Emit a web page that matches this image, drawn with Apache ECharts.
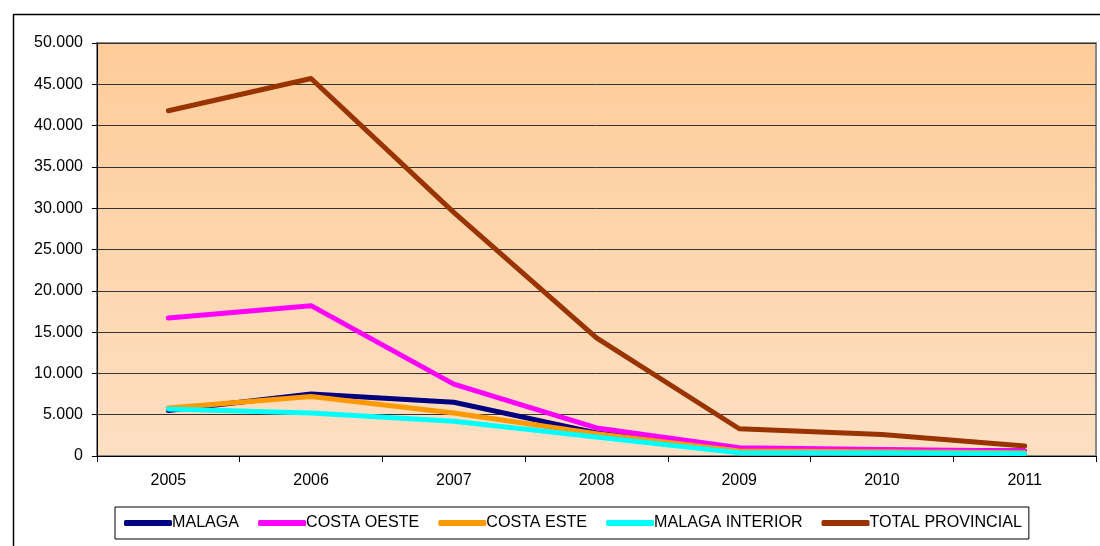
<!DOCTYPE html>
<html>
<head>
<meta charset="utf-8">
<script src="https://cdn.jsdelivr.net/npm/echarts@6/dist/echarts.min.js"></script>
<style>
html, body { margin: 0; padding: 0; background: #fff; }
#chart { width: 1100px; height: 546px; }
</style>
</head>
<body>
<div id="chart"></div>
<script>
// años
var years = ['2005', '2006', '2007', '2008', '2009', '2010', '2011'];

// valores
var malaga = [5500, 7500, 6500, 2800, 800, 700, 600];
var costaOeste = [16700, 18200, 8700, 3400, 1000, 800, 600];
var costaEste = [5800, 7200, 5200, 2700, 600, 500, 400];
var malagaInterior = [5700, 5200, 4200, 2300, 400, 350, 300];
var totalProvincial = [41800, 45700, 29500, 14300, 3300, 2600, 1200];

var seriesNames = ['MALAGA', 'COSTA OESTE', 'COSTA ESTE', 'MALAGA INTERIOR', 'TOTAL PROVINCIAL'];
var seriesColors = ['#000080', '#FF00FF', '#FF9900', '#00FFFF', '#993300'];
var seriesData = [malaga, costaOeste, costaEste, malagaInterior, totalProvincial];

// 50000 -> 50.000
function fmtMiles(v) {
	return String(v).replace(/\B(?=(\d{3})+(?!\d))/g, '.');
}

var myChart = echarts.init(document.getElementById('chart'));

var series = [];
for (var i = 0; i < seriesNames.length; i++) {
	series.push({
		name: seriesNames[i],
		type: 'line',
		data: seriesData[i],
		symbol: 'none',
		color: seriesColors[i],
		lineStyle: {
			width: 5,
			cap: 'round',
			join: 'round',
			color: seriesColors[i]
		},
		z: 3 + i
	});
}

myChart.setOption({
	animation: false,
	backgroundColor: '#fff',
	textStyle: {
		fontFamily: 'Liberation Sans, Arial, sans-serif'
	},
	graphic: [{
		type: 'rect',
		left: 11,
		top: 12,
		shape: { width: 1200, height: 700 },
		style: { fill: 'none', stroke: '#000', lineWidth: 1.5 },
		z: -10
	}],
	legend: {
		left: 115,
		top: 507,
		orient: 'horizontal',
		data: seriesNames,
		icon: 'roundRect',
		itemWidth: 48,
		itemHeight: 6,
		itemGap: 19,
		padding: [8, 7, 8, 9],
		borderColor: '#000',
		borderWidth: 1,
		backgroundColor: '#fff',
		textStyle: {
			fontSize: 16.1,
			color: '#000',
			padding: [0, 0, 0, -5],
			fontFamily: 'Liberation Sans, Arial, sans-serif'
		}
	},
	grid: {
		left: 97,
		top: 43,
		right: 4,
		bottom: 90,
		containLabel: false,
		show: true,
		borderColor: '#888',
		borderWidth: 2,
		backgroundColor: {
			type: 'linear',
			x: 0, y: 0, x2: 0, y2: 1,
			colorStops: [
				{ offset: 0, color: '#FECC99' },
				{ offset: 1, color: '#FDDFC2' }
			]
		}
	},
	xAxis: {
		type: 'category',
		data: years,
		boundaryGap: true,
		axisLine: { show: true, lineStyle: { color: '#000', width: 1 } },
		axisTick: { show: true, interval: 0, length: 6, lineStyle: { color: '#000' } },
		axisLabel: { margin: 17, fontSize: 16, color: '#000' },
		splitLine: { show: false }
	},
	yAxis: {
		type: 'value',
		min: 0,
		max: 50000,
		interval: 5000,
		axisLine: { show: true, lineStyle: { color: '#000', width: 1 } },
		axisTick: { show: true, length: 5, lineStyle: { color: '#000' } },
		axisLabel: {
			margin: 14,
			fontSize: 16,
			color: '#000',
			formatter: function (v) { return fmtMiles(v); }
		},
		splitLine: { show: true, lineStyle: { color: '#333', width: 1 } }
	},
	series: series
});
</script>
</body>
</html>
